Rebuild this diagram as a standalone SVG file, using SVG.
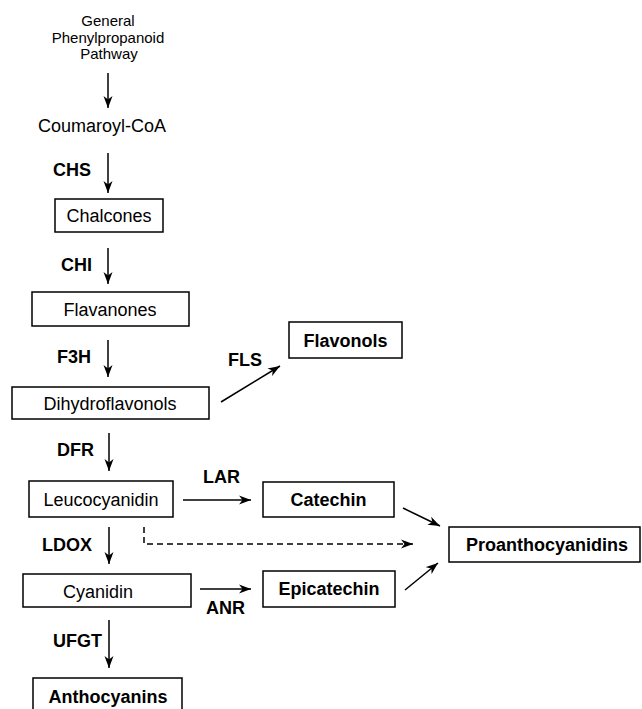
<svg xmlns="http://www.w3.org/2000/svg" width="642" height="709" viewBox="0 0 642 709">
<style>
text{font-family:"Liberation Sans",Arial,sans-serif;fill:#000}
.t{font-size:15px;text-anchor:middle}
.n{font-size:18px;text-anchor:middle}
.b{font-size:18px;font-weight:bold;text-anchor:middle}
.e{font-size:18px;font-weight:bold}
rect{fill:#fff;stroke:#000;stroke-width:1.5}
.c line,.c path{stroke:#000;stroke-width:1.5;fill:none;marker-end:url(#ah)}
.d{stroke-dasharray:6 4}
</style>
<defs>
<marker id="ah" markerUnits="userSpaceOnUse" markerWidth="14" markerHeight="10" refX="12" refY="5" orient="auto" viewBox="0 0 14 10">
<path d="M0,0.5 L12,5 L0,9.5 L3.5,5 z" fill="#000"/>
</marker>
</defs>
<g id="connectors" class="c">
<line x1="108" y1="73" x2="108" y2="108"/>
<line x1="108" y1="153" x2="108" y2="193"/>
<line x1="108" y1="248" x2="108" y2="284"/>
<line x1="108" y1="340" x2="108" y2="377"/>
<line x1="221" y1="402" x2="280" y2="366"/>
<line x1="109" y1="433" x2="109" y2="471"/>
<line x1="183" y1="500" x2="251" y2="500"/>
<line x1="109" y1="527" x2="109" y2="564"/>
<path class="d" d="M144,527 V544 H413"/>
<line x1="200" y1="589" x2="251" y2="589"/>
<line x1="109" y1="620" x2="109" y2="668"/>
<line x1="403" y1="508" x2="440" y2="526"/>
<line x1="405" y1="590" x2="438" y2="563"/>
</g>
<g id="general">
<text class="t" x="108" y="26">General</text>
<text class="t" x="108" y="42.5">Phenylpropanoid</text>
<text class="t" x="109" y="59">Pathway</text>
</g>
<g id="coumaroyl"><text class="n" x="102" y="132">Coumaroyl-CoA</text></g>
<g id="chs"><text class="e" x="53" y="176">CHS</text></g>
<g id="chalcones"><rect x="55" y="199" width="108" height="33"/><text class="n" x="109" y="222">Chalcones</text></g>
<g id="chi"><text class="e" x="61" y="271">CHI</text></g>
<g id="flavanones"><rect x="32" y="292" width="157" height="34"/><text class="n" x="110" y="316">Flavanones</text></g>
<g id="f3h"><text class="e" x="57" y="363">F3H</text></g>
<g id="dihydroflavonols"><rect x="12" y="387" width="197" height="32"/><text class="n" x="110" y="410">Dihydroflavonols</text></g>
<g id="fls"><text class="e" x="228" y="366">FLS</text></g>
<g id="flavonols"><rect x="289" y="322" width="113" height="36"/><text class="b" x="345.5" y="347">Flavonols</text></g>
<g id="dfr"><text class="e" x="57" y="456">DFR</text></g>
<g id="leucocyanidin"><rect x="29" y="481" width="144" height="36"/><text class="n" x="101" y="506">Leucocyanidin</text></g>
<g id="lar"><text class="e" x="203" y="483">LAR</text></g>
<g id="catechin"><rect x="263" y="482" width="131" height="35"/><text class="b" x="328.5" y="506">Catechin</text></g>
<g id="ldox"><text class="e" x="42" y="551">LDOX</text></g>
<g id="cyanidin"><rect x="23" y="574" width="168" height="33"/><text class="n" x="98" y="598">Cyanidin</text></g>
<g id="anr"><text class="e" x="206" y="614">ANR</text></g>
<g id="epicatechin"><rect x="263" y="571" width="132" height="36"/><text class="b" x="329" y="595">Epicatechin</text></g>
<g id="ufgt"><text class="e" x="53" y="647">UFGT</text></g>
<g id="anthocyanins"><rect x="33" y="678" width="149" height="40"/><text class="b" x="108" y="703">Anthocyanins</text></g>
<g id="proanthocyanidins"><rect x="449" y="527" width="191" height="35"/><text class="b" x="547" y="551">Proanthocyanidins</text></g>
</svg>
